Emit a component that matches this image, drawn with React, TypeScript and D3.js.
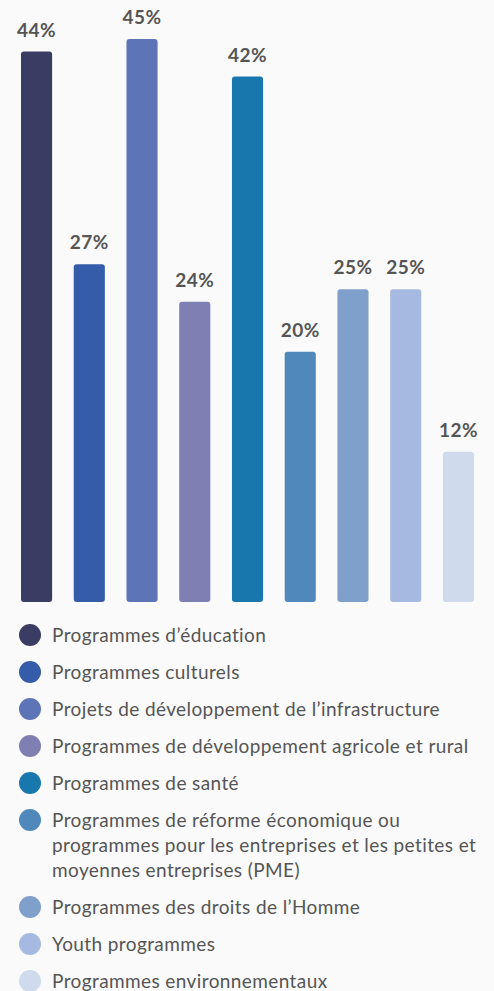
import React from "react";
import * as d3 from "d3";

const categories = [
  "Programmes d’éducation",
  "Programmes culturels",
  "Projets de développement de l’infrastructure",
  "Programmes de développement agricole et rural",
  "Programmes de santé",
  "Programmes de réforme économique ou programmes pour les entreprises et les petites et moyennes entreprises (PME)",
  "Programmes des droits de l’Homme",
  "Youth programmes",
  "Programmes environnementaux",
];

// legend labels as they wrap in the picture
const legendLines: string[][] = [
  ["Programmes d’éducation"],
  ["Programmes culturels"],
  ["Projets de développement de l’infrastructure"],
  ["Programmes de développement agricole et rural"],
  ["Programmes de santé"],
  [
    "Programmes de réforme économique ou",
    "programmes pour les entreprises et les petites et",
    "moyennes entreprises (PME)",
  ],
  ["Programmes des droits de l’Homme"],
  ["Youth programmes"],
  ["Programmes environnementaux"],
];

const values = [44, 27, 45, 24, 42, 20, 25, 25, 12];

const colors = [
  "#3b3c63",
  "#355ca8",
  "#5d74b7",
  "#7f7fb3",
  "#1878ae",
  "#5088bb",
  "#7fa0ca",
  "#a6b9e0",
  "#cfdaed",
];

const W = 494;
const H = 991;
const FONT = "Lato, 'Open Sans', sans-serif";
const TEXT = "#555555";

export default function App() {
  const x = d3
    .scaleBand<string>()
    .domain(categories)
    .range([21, 474])
    .paddingInner(0.41)
    .paddingOuter(0);

  const y = d3.scaleLinear().domain([0, 45]).range([602, 39]);

  const color = d3.scaleOrdinal<string, string>().domain(categories).range(colors);

  // legend layout
  const legendTop = 635;
  const lineH = 25;
  const itemGap = 37;
  let cursor = legendTop;
  const legendItems = legendLines.map((lines, i) => {
    const yy = cursor;
    cursor += itemGap + (lines.length - 1) * lineH;
    return { cat: categories[i], lines, y: yy };
  });

  return (
    <svg
      width={W}
      height={H}
      style={{ position: "absolute", left: 0, top: 0, display: "block", background: "#fafafa" }}
      fontFamily={FONT}
    >
      <rect width={W} height={H} fill="#fafafa" />
      <g className="bars">
        {categories.map((c, i) => (
          <rect
            key={c}
            x={x(c)}
            y={y(values[i])}
            width={x.bandwidth()}
            height={y(0) - y(values[i])}
            rx={3}
            fill={color(c)}
          />
        ))}
      </g>
      <g className="labels">
        {categories.map((c, i) => (
          <text
            key={c}
            x={(x(c) ?? 0) + x.bandwidth() / 2}
            y={y(values[i]) - 15}
            textAnchor="middle"
            fontSize={19}
            fontWeight="bold"
            letterSpacing={0.5}
            fill={TEXT}
          >
            {values[i]}%
          </text>
        ))}
      </g>
      <g className="legend">
        {legendItems.map((d) => (
          <g key={d.cat}>
            <circle cx={30} cy={d.y} r={11} fill={color(d.cat)} />
            {d.lines.map((l, j) => (
              <text
                key={j}
                x={52}
                y={d.y + j * lineH}
                dy="0.36em"
                fontSize={19}
                letterSpacing={0.4}
                fill={TEXT}
              >
                {l}
              </text>
            ))}
          </g>
        ))}
      </g>
    </svg>
  );
}
